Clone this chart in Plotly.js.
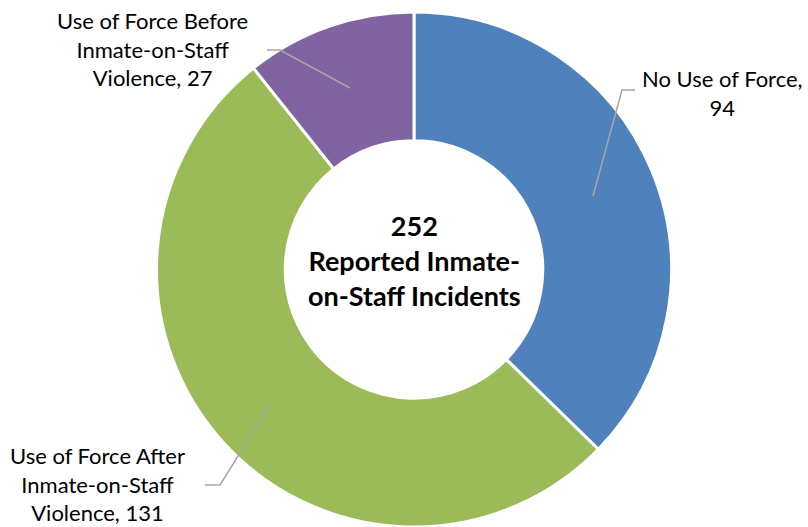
<!DOCTYPE html>
<html><head><meta charset="utf-8">
<script src="https://cdn.plot.ly/plotly-3.0.1.min.js"></script>
<style>html,body{margin:0;padding:0;background:#fff}#c{width:808px;height:527px}</style>
</head><body><div id="c"></div>
<script>
const categories = ["No Use of Force", "Use of Force After Inmate-on-Staff Violence", "Use of Force Before Inmate-on-Staff Violence"];
const values = [94, 131, 27];
const colors = ["#4F81BD", "#9BBB59", "#8064A2"];
const labelTexts = ["No Use of Force,<br>94", "Use of Force After<br>Inmate-on-Staff<br>Violence, 131", "Use of Force Before<br>Inmate-on-Staff<br>Violence, 27"];
const total = values.reduce((a,b)=>a+b,0);

const W=808,H=527;
const px=(x)=>x/W, py=(y)=>1-y/H;

const FONT="Lato, 'Open Sans', sans-serif";
const R=258;
const data=[{
  type:"pie", values:values, labels:categories, sort:false, direction:"clockwise", rotation:0,
  hole:0.5, textinfo:"none", hoverinfo:"label+value",
  marker:{colors:colors, line:{color:"#ffffff", width:3}},
  domain:{x:[px(414-R), px(414+R)], y:[py(270+R), py(270-R)]},
  showlegend:false
}];

const lines=[
  [[593,196],[622,90],[635,90]],
  [[270,405],[220,485],[205,485]],
  [[350,88],[280,50],[267,50]]
];
const shapes=lines.map(p=>({type:"path", xref:"paper", yref:"paper",
  path:"M"+p.map(q=>px(q[0])+","+py(q[1])).join(" L"),
  line:{color:"#A6A6A6", width:1.5}}));

const labelPos=[[722,93],[97,484],[152,49]];
const annotations=labelTexts.map((t,i)=>({text:t, xref:"paper", yref:"paper",
  x:px(labelPos[i][0]), y:py(labelPos[i][1]), xanchor:"center", yanchor:"middle",
  showarrow:false, align:"center", font:{family:FONT, size:22, color:"#000"}}));
annotations.push({text:"<b>"+total+"<br>Reported Inmate-<br>on-Staff Incidents</b>", xref:"paper", yref:"paper",
  x:px(414), y:py(260), xanchor:"center", yanchor:"middle", showarrow:false, align:"center",
  font:{family:FONT, size:27, color:"#000"}});

Plotly.newPlot("c", data, {width:W, height:H, margin:{l:0,r:0,t:0,b:0},
  paper_bgcolor:"#fff", shapes:shapes, annotations:annotations}, {displayModeBar:false, staticPlot:true});
</script></body></html>
